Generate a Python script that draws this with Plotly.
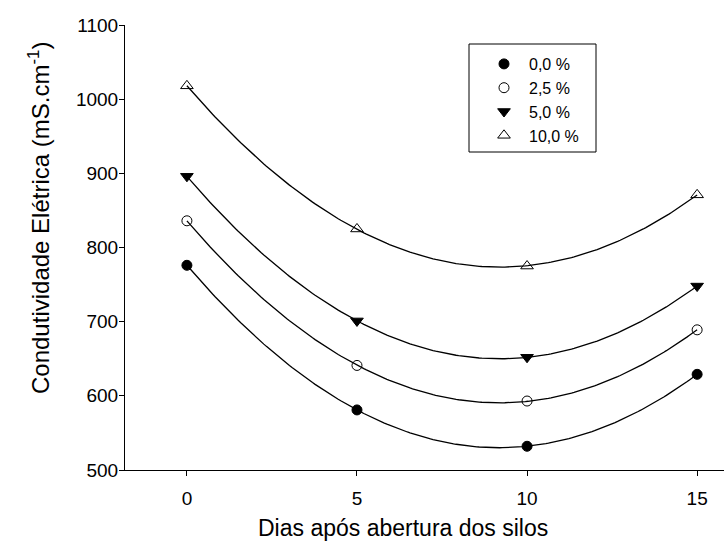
import numpy as np
import plotly.graph_objects as go

# Days after silo opening
dias = [0, 5, 10, 15]

# Electrical conductivity (mS.cm-1) per additive level
serie_00 = [776, 581, 532, 629]
serie_25 = [836, 641, 593, 689]
serie_50 = [896, 701, 652, 748]
serie_100 = [1018, 825, 775, 871]

nomes = ["0,0 %", "2,5 %", "5,0 %", "10,0 %"]
series = [serie_00, serie_25, serie_50, serie_100]
simbolos = ["circle", "circle-open", "triangle-down", "triangle-up-open"]
tamanhos = [10, 10, 11, 11]

FONT = "Arial, Liberation Sans, Helvetica, sans-serif"

# plot area in pixels
L, T, W, H = 125, 25, 599, 445


def px_x(p):
    return (p - L) / W


def px_y(p):
    return 1 - (p - T) / H


fig = go.Figure()

# Quadratic regression curve for each level
xx = np.linspace(0, 15, 200)
for vals in series:
    coef = np.polyfit(dias, vals, 2)
    fig.add_trace(go.Scatter(
        x=xx, y=np.polyval(coef, xx), mode="lines",
        line=dict(color="black", width=1.3), showlegend=False, hoverinfo="skip",
    ))

# Observed means
for nome, vals, sym, sz in zip(nomes, series, simbolos, tamanhos):
    fig.add_trace(go.Scatter(
        x=dias, y=vals, mode="markers", name=nome,
        marker=dict(symbol=sym, size=sz, color="black",
                    line=dict(color="black", width=1)),
        cliponaxis=False,
    ))

fig.update_layout(
    width=724, height=556,
    margin=dict(l=L, r=724 - L - W, t=T, b=556 - T - H),
    plot_bgcolor="white", paper_bgcolor="white",
    font=dict(family=FONT, color="black", size=17),
    showlegend=True,
    legend=dict(
        x=px_x(479), y=px_y(47), xanchor="left", yanchor="top",
        borderwidth=0, bgcolor="rgba(0,0,0,0)", itemwidth=40,
        font=dict(size=16, family=FONT), tracegroupgap=0,
    ),
    shapes=[
        dict(type="rect", xref="paper", yref="paper",
             x0=px_x(469), x1=px_x(596), y0=px_y(152), y1=px_y(44),
             line=dict(color="black", width=1), fillcolor="rgba(0,0,0,0)"),
    ],
    xaxis=dict(
        range=[-1.82, 15.79], tickvals=dias, ticktext=[str(d) for d in dias],
        showline=True, linecolor="black", linewidth=1,
        ticks="outside", ticklen=5, tickcolor="black",
        showgrid=False, zeroline=False, tickfont=dict(size=19),
        ticklabelstandoff=6,
    ),
    yaxis=dict(
        range=[500, 1100], tickvals=list(range(500, 1101, 100)),
        showline=True, linecolor="black", linewidth=1,
        ticks="outside", ticklen=5, tickcolor="black",
        showgrid=False, zeroline=False, tickfont=dict(size=19),
        ticklabelstandoff=-3,
    ),
    annotations=[
        dict(text="Dias após abertura dos silos", xref="paper", yref="paper",
             x=px_x(403), y=px_y(528), xanchor="center", yanchor="middle",
             showarrow=False, font=dict(size=23)),
        dict(text="Condutividade Elétrica (mS.cm<sup>-1</sup>)", xref="paper", yref="paper",
             x=px_x(39), y=px_y(218), xanchor="center", yanchor="middle",
             textangle=-90, showarrow=False, font=dict(size=24)),
    ],
)

fig.write_html("out.html")
